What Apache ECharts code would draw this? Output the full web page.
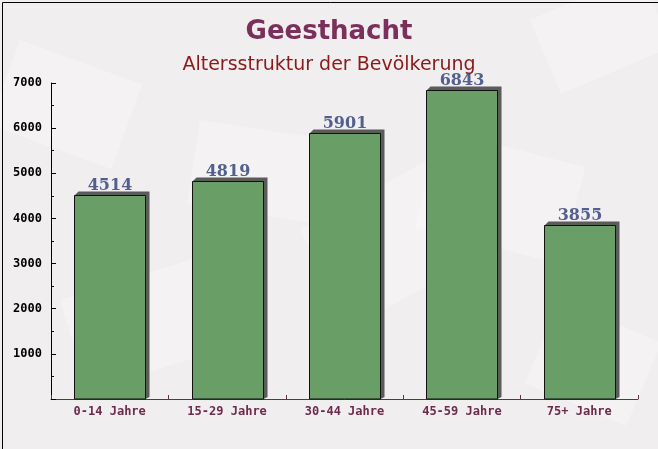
<!DOCTYPE html>
<html><head><meta charset="utf-8">
<script src="https://cdn.jsdelivr.net/npm/echarts@6/dist/echarts.min.js"></script>
<style>html,body{margin:0;padding:0;}#c{width:658px;height:449px;}</style>
</head><body><div id="c"></div>
<script>
var categories = ['0-14 Jahre', '15-29 Jahre', '30-44 Jahre', '45-59 Jahre', '75+ Jahre'];
var values = [4514, 4819, 5901, 6843, 3855];
var yTicks = [0, 1000, 2000, 3000, 4000, 5000, 6000, 7000];

var chart = echarts.init(document.getElementById('c'), null, {renderer: 'canvas'});
var deco = [
  {x: 20, y: 40, w: 130, h: 90, r: -0.35},
  {x: 300, y: 230, w: 160, h: 110, r: 0.5},
  {x: 440, y: 130, w: 150, h: 100, r: -0.25},
  {x: 530, y: 20, w: 120, h: 80, r: 0.4},
  {x: 60, y: 300, w: 140, h: 95, r: 0.3},
  {x: 200, y: 120, w: 130, h: 85, r: -0.15},
  {x: 560, y: 300, w: 110, h: 90, r: -0.4}
].map(function (d) {
  return {type: 'rect', x: d.x, y: d.y, rotation: d.r, z: -10,
    shape: {x: 0, y: 0, width: d.w, height: d.h},
    style: {fill: 'rgba(255,255,255,0.28)'}, silent: true};
});

var BAR_W = 71, D = 4;
function renderBar(params, api) {
  var idx = api.value(0);
  var val = api.value(1);
  var top = api.coord([idx, val]);
  var base = api.coord([idx, 0]);
  var x0 = Math.round(top[0] - BAR_W / 2) + 0.5;
  var x1 = x0 + BAR_W;
  var yt = Math.round(top[1]) + 0.5;
  var yb = base[1];
  return {
    type: 'group',
    children: [{
      type: 'polygon',
      shape: {points: [[x0, yt], [x0 + D, yt - D], [x1 + D, yt - D], [x1 + D, yb - 2], [x1, yb]]},
      style: {fill: '#5b5b5b'}
    }, {
      type: 'rect',
      shape: {x: x0, y: yt, width: BAR_W, height: yb - yt},
      style: {fill: '#699f66', stroke: '#111', lineWidth: 1}
    }, {
      type: 'text',
      x: (x0 + x1) / 2, y: yt - 2,
      style: {text: String(val), textAlign: 'center', textVerticalAlign: 'bottom',
        font: 'bold 16px "DejaVu Serif"', fill: '#53608e'}
    }]
  };
}

chart.setOption({
  backgroundColor: '#f1eef0',
  animation: false,
  graphic: deco.concat([{
    type: 'rect', left: 0, top: 0, z: 100,
    shape: {x: 0.5, y: 0.5, width: 657, height: 448},
    style: {fill: 'none', stroke: '#000', lineWidth: 1}, silent: true
  }]),
  title: [{
    text: 'Geesthacht', left: 'center', top: 14,
    textStyle: {fontFamily: 'DejaVu Sans', fontWeight: 'bold', fontSize: 26, color: '#7b2f5b'}
  }, {
    text: 'Altersstruktur der Bevölkerung', left: 'center', top: 51,
    textStyle: {fontFamily: 'DejaVu Sans', fontWeight: 'normal', fontSize: 19, color: '#8b1a1a'}
  }],
  grid: {left: 51, right: 20, top: 83, bottom: 50},
  xAxis: {
    type: 'category', data: categories,
    axisLine: {lineStyle: {color: '#6b2b4b', width: 1}},
    axisTick: {show: true, inside: true, length: 4, lineStyle: {color: '#6b2b4b'}},
    axisLabel: {fontFamily: 'DejaVu Sans Mono', fontWeight: 'bold', fontSize: 12, color: '#6b2b4b', margin: 7}
  },
  yAxis: {
    type: 'value', min: 0, max: 7000, interval: 1000,
    axisLine: {show: true, lineStyle: {color: '#000', width: 1}},
    axisTick: {show: true, inside: true, length: 5, lineStyle: {color: '#000'}},
    minorTick: {show: true, splitNumber: 2, length: 3, lineStyle: {color: '#000'}},
    splitLine: {show: false},
    axisLabel: {fontFamily: 'DejaVu Sans Mono', fontWeight: 'bold', fontSize: 12, color: '#000', margin: 9,
      formatter: function (v) { return yTicks.indexOf(v) > 0 ? String(v) : ''; }}
  },
  series: [{
    type: 'custom',
    data: values.map(function (v, i) { return [i, v]; }),
    encode: {x: 0, y: 1},
    renderItem: renderBar
  }]
});
</script></body></html>
